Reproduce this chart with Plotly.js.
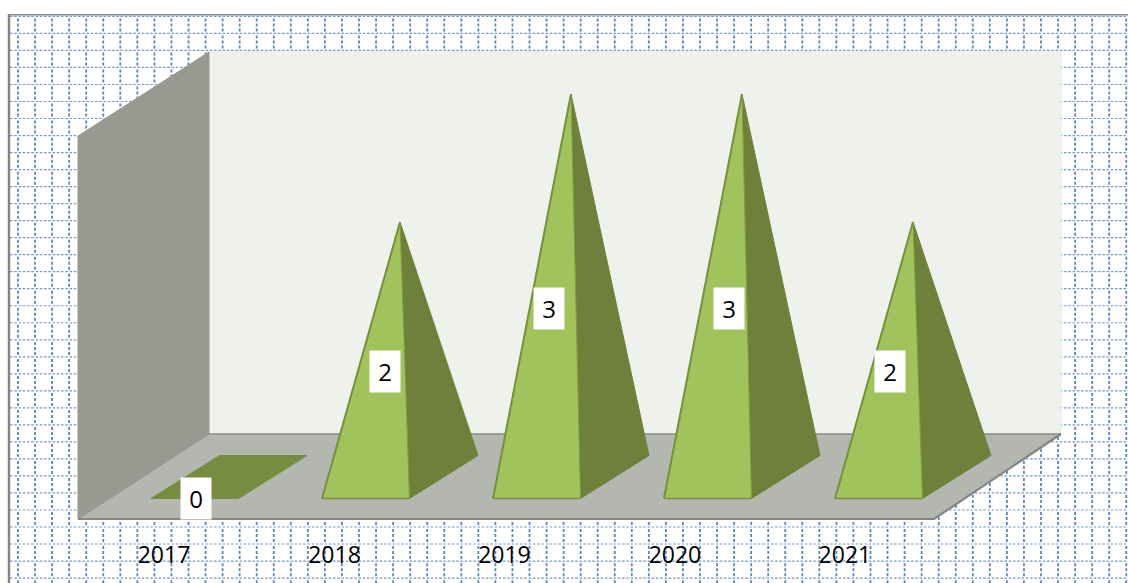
<!DOCTYPE html>
<html>
<head>
<meta charset="utf-8">
<script src="https://cdn.plot.ly/plotly-3.0.1.min.js"></script>
<style>html,body{margin:0;padding:0;background:#fff;overflow:hidden}#chart{width:1128px;height:583px}</style>
</head>
<body>
<div id="chart"></div>
<script>
// ---- chart data ----
const years = [2017, 2018, 2019, 2020, 2021];
const values = [0, 2, 3, 3, 2];
const yearLabels = ['2017', '2018', '2019', '2020', '2021'];
const tickPositions = [2017.076, 2018.073, 2019.067, 2020.064, 2021.058];
const labelNudgeX = [0.263, 0.368, 0.327, 0.38, 0.322];

// ---- scale of the picture (pixels per axis unit) ----
const W = 1128, H = 583;
const pxPerYear = 171, pxPerValue = 128;
const x0px = 151, y0px = 478;              // 2017 / value 0 reference
const xOfPx = p => 2017 + (p - x0px) / pxPerYear;
const yOfPx = p => (y0px - p) / pxPerValue;

// ---- 3D box, expressed in axis units ----
const wallLeft = xOfPx(209), wallRight = xOfPx(1061);
const frontLeft = xOfPx(78), frontRight = xOfPx(934);
const wallBase = yOfPx(434), floorFront = yOfPx(519);
const wallTop = yOfPx(52), leftTop = yOfPx(136);

// pyramid proportions in axis units
const baseW = 87.5 / pxPerYear, depthX = 68.5 / pxPerYear, depthY = 43 / pxPerValue;
const baseY = yOfPx(498.5);

const traces = [];
function poly(xs, ys, fill, line, lw) {
  traces.push({x: xs, y: ys, type: 'scatter', mode: 'lines', fill: 'toself', fillcolor: fill,
    line: {color: line || fill, width: lw === undefined ? 1 : lw}, hoverinfo: 'skip', showlegend: false});
}
function seg(xs, ys, color, w) {
  traces.push({x: xs, y: ys, type: 'scatter', mode: 'lines',
    line: {color: color, width: w}, hoverinfo: 'skip', showlegend: false});
}

// ---- dotted page grid ----
const hx = [], hy = [], vx = [], vy = [];
for (let k = 0; k < 34; k++) { const p = 16.4 + 17.02 * k; hx.push(xOfPx(10), xOfPx(W), null); hy.push(yOfPx(p), yOfPx(p), null); }
for (let k = 0; k < 66; k++) { const p = 18 + 17.05 * k; vx.push(xOfPx(p), xOfPx(p), null); vy.push(yOfPx(18.5), yOfPx(H), null); }
traces.push({x: hx, y: hy, type: 'scatter', mode: 'lines', connectgaps: false,
  line: {color: 'rgba(79,129,189,0.8)', width: 1.2, dash: '2.6px,1.65px'}, hoverinfo: 'skip', showlegend: false});
traces.push({x: vx, y: vy, type: 'scatter', mode: 'lines', connectgaps: false,
  line: {color: 'rgba(79,129,189,0.95)', width: 1.8, dash: '3px,2px,3px,2px,3px,4.02px'}, hoverinfo: 'skip', showlegend: false});

// ---- page frame ----
seg([xOfPx(9), xOfPx(9)], [yOfPx(14), yOfPx(H)], '#848484', 2.4);
seg([xOfPx(8), xOfPx(W)], [yOfPx(14.7), yOfPx(14.7)], '#858d95', 1.4);

// ---- walls and floor ----
poly([wallLeft, wallRight, wallRight, wallLeft, wallLeft], [wallBase, wallBase, wallTop, wallTop, wallBase], '#eff2ec', '#e9ece6', 1);
poly([frontLeft, wallLeft, wallLeft, frontLeft, frontLeft], [leftTop, wallTop, wallBase, floorFront, leftTop], '#989a92', '#989a92', 1);
poly([frontLeft, frontRight, wallRight, wallLeft, frontLeft], [floorFront, floorFront, wallBase, wallBase, floorFront], '#b4b6b0', '#b4b6b0', 1);
seg([wallLeft, wallRight], [wallBase, wallBase], '#8f918b', 1.5);
seg([frontLeft, wallLeft], [floorFront, wallBase], '#8f918b', 1);
seg([frontLeft, frontRight, wallRight], [floorFront, floorFront, wallBase], '#858585', 2.2);

// ---- pyramids ----
years.forEach((yr, i) => {
  const v = values[i];
  const xl = yr, xr = yr + baseW;
  const apexX = yr + (baseW + depthX) / 2, apexY = v;
  if (v === 0) {
    poly([xl, xr, xr + depthX, xl + depthX, xl], [baseY, baseY, baseY + depthY, baseY + depthY, baseY], '#768c40', '#768c40', 1);
  } else {
    poly([xr, xr + depthX, apexX, xr], [baseY, baseY + depthY, apexY, baseY], '#6e803a', '#6f823a', 1);
    poly([xl, xr, apexX, xl], [baseY, baseY, apexY, baseY], '#a0c35b', '#7f9c42', 1);
    seg([xl, apexX], [baseY, apexY], '#76923c', 2);
    seg([xl, xr], [baseY, baseY], '#76923c', 1.4);
  }
});

// ---- data labels ----
const annotations = years.map((yr, i) => ({
  x: yr + labelNudgeX[i], y: baseY + values[i] * 0.496, xref: 'x', yref: 'y',
  text: String(values[i]), showarrow: false, xanchor: 'center', yanchor: 'middle',
  bgcolor: '#ffffff', borderpad: 0, width: 30, height: 41, align: 'center', valign: 'middle',
  font: {family: '"Open Sans", sans-serif', size: 24, color: '#000000'}
}));

const layout = {
  width: W, height: H, autosize: false,
  margin: {l: 0, r: 0, t: 0, b: 0, pad: 0},
  paper_bgcolor: '#ffffff', plot_bgcolor: '#ffffff', showlegend: false,
  xaxis: {
    range: [xOfPx(0), xOfPx(W)], showgrid: false, zeroline: false, showline: false, fixedrange: true,
    tickmode: 'array', tickvals: tickPositions, ticktext: yearLabels, ticks: '',
    anchor: 'free', position: 0.0206, ticklabelposition: 'inside', ticklabelstandoff: 0,
    tickfont: {family: '"Open Sans", sans-serif', size: 23, color: '#000000'}
  },
  yaxis: {
    range: [yOfPx(H), yOfPx(0)], showgrid: false, zeroline: false, showline: false,
    showticklabels: false, ticks: '', fixedrange: true, domain: [0, 1]
  },
  annotations: annotations
};
Plotly.newPlot('chart', traces, layout, {displayModeBar: false, staticPlot: true});
</script>
</body>
</html>
